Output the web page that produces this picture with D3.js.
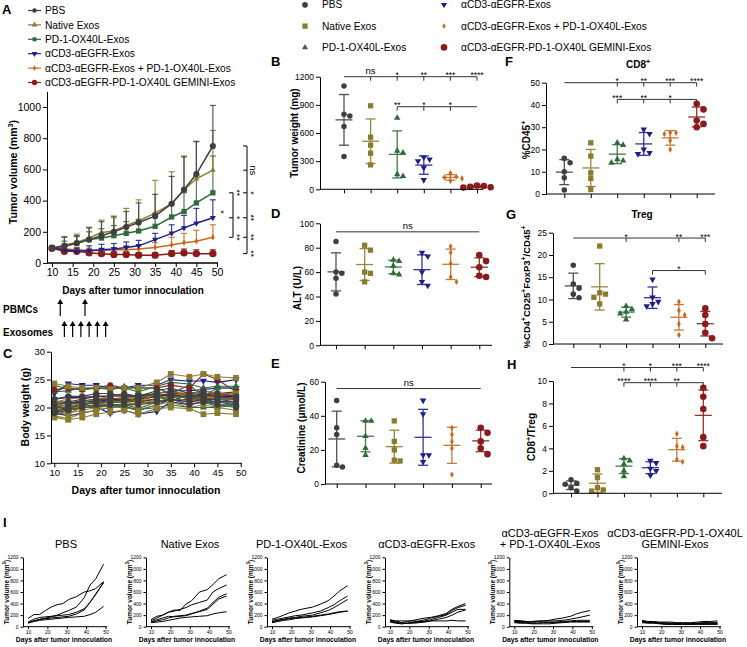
<!DOCTYPE html>
<html><head><meta charset="utf-8">
<script src="https://cdn.jsdelivr.net/npm/d3@7"></script>
<style>body{margin:0;background:#fff}</style>
</head><body>
<svg id="chart" width="747" height="647"></svg>
<script>
// ---------------- DATA ----------------
const groupNames = ["PBS","Native Exos","PD-1-OX40L-Exos","αCD3-αEGFR-Exos","αCD3-αEGFR-Exos + PD-1-OX40L-Exos","αCD3-αEGFR-PD-1-OX40L GEMINI-Exos"];
const panelITitles = [["PBS"],["Native Exos"],["PD-1-OX40L-Exos"],["αCD3-αEGFR-Exos"],["αCD3-αEGFR-Exos","+ PD-1-OX40L-Exos"],["αCD3-αEGFR-PD-1-OX40L","GEMINI-Exos"]];

// Panel A: tumor volume mean and mean+error
const daysA = [10,13,16,19,22,25,28,31,35,39,42,45,49];
const meanPBS    = [95,108,128,150,175,200,230,260,300,380,470,570,750];
const meanNative = [95,115,132,160,195,205,240,270,320,380,470,540,595];
const meanPD1    = [95,110,125,150,160,175,190,205,235,295,330,385,450];
const meanCD3    = [95,85,75,80,85,90,100,110,150,190,225,255,290];
const meanCombo  = [95,90,85,80,80,85,85,90,100,115,130,140,165];
const meanGemini = [95,75,75,65,60,55,55,50,50,60,65,60,60];
const upPBS    = [110,165,175,225,265,300,330,385,440,555,680,780,1010];
const upNative = [110,170,185,230,275,290,350,405,530,585,686,777,850];
const upPD1    = [105,140,170,200,220,240,265,280,320,380,450,560,686];
const upCD3    = [100,110,95,110,120,125,135,145,190,245,305,350,405];
const upCombo  = [100,105,100,95,95,100,110,110,130,165,190,210,245];
const upGemini = [100,85,85,80,75,70,70,65,65,80,90,85,85];
// significance in A (values at day 49)
const sigA1Levels = [450,290,165];  const sigA1Labels = ["**","*","**"];
const sigA2Levels = [750,595,450,290,165,60]; const sigA2Labels = ["ns","*","**","**","**"];
const pbmcDays = [12,18];
const exoDays = [13,15,17,19,21,23];

// Panel C: body weight (g), 5 mice per group
const daysC = [10,13,16,19,22,25,28,32,35,39,42,45,49];
const bwPBS = [
 [21.5,22,22,22.5,22.5,22,22,23,23.5,22.5,23,22.5,22],
 [20.5,21,21.5,22,22,22.5,22,22.5,23,22,22.5,22,21.5],
 [20,20.5,21,21.5,21.5,21,21.5,22,22.5,21.5,22,21.5,21],
 [19.5,20,20.5,21,21,21.5,21,21.5,22,21,21.5,21,20.5],
 [19,19.5,20,20.5,20.5,20.5,20.5,21,21.5,20.5,21,20.5,20]];
const bwNative = [
 [24.3,23.8,23.5,23.5,23.3,23.5,23.5,24.5,26,25.5,26,25.5,25.3],
 [21,20,21,21.5,22,22,21,22.5,23,22,23,22.5,22.5],
 [20,19,20,20.5,21,21,20.5,21.5,22,21,22,21.5,21.5],
 [18.5,18,19,19.5,20,20,19.5,20.5,21,20,20.5,20,19.5],
 [18.2,17.8,18.2,18.8,19.2,19.5,18.8,19.8,20,19.8,18.8,19,18.8]];
const bwPD1 = [
 [24,23.3,23.2,23.5,23.5,23.5,22.8,23.8,24.5,24.2,23.5,23.8,23.8],
 [22.8,23,23.5,23.5,23.3,23.7,23.5,23.5,22.5,24,22,23.5,23.5],
 [21,21,20.5,21,21,20.8,21.8,22.5,21,22.5,21.5,20.5,20.5],
 [20,20,20.5,20.2,20.3,20.6,19.8,21,21.8,22,21,20.2,20.8],
 [18.6,19.5,20,20,20.3,20.2,19.6,20,20.5,20,20,20,20.5]];
const bwCD3 = [
 [21.5,21.8,21.8,22,22,22,22.2,22.5,23,23,23.2,23.5,23.5],
 [22.5,24.3,24,24,23.5,23.5,24,24,25,24.7,24.8,24.5,25],
 [20.5,20.8,21,21,21.5,21.3,21.5,22,22.3,21.8,22.3,22,22],
 [19.5,19.5,20,20,19,19.5,18.8,19.3,21,20.5,21,21,21],
 [19,18.5,19,19.5,20,20.2,19.5,20.5,21.5,21,21.5,21.5,21.5]];
const bwCombo = [
 [20.5,20.2,20.5,21,21.2,21.5,21.7,22,22.5,22,21.8,21.5,21.5],
 [19.5,20,20.5,21,21.5,21.5,21.3,22,22.3,22,22,22,22],
 [20,19.7,20.2,20.5,21,21,21,21.5,22,21.8,21.5,21.8,21.8],
 [21,21.5,21.8,22,22,22.2,22,22.5,22.8,22.5,22.5,22.3,22.5],
 [18.8,19,19.5,20,20.3,20.5,20.5,21,21.5,21,21,21,21]];
const bwGemini = [
 [23.2,23.5,23.2,23.5,24,23.5,23.5,23.5,24,23.5,26,25,22.8],
 [20.2,20.5,21,21.2,21.5,21.8,22,22.2,22.5,22.5,22.5,22.5,22.8],
 [19.5,19.7,20.5,20.8,21,21,21.2,21.5,22,22,22,22,22],
 [20.8,20.8,21.2,21.5,21.5,21.5,21.8,22,22.2,22.3,22.2,22.3,22.2],
 [19.2,19.5,20,20.3,20.5,20.5,20.8,21,21.3,21.5,21.5,21.5,21.5]];

// Panels B, D-H: individual mice per group (group order)
const tumorWeight = [[1100,800,780,670,350],[890,555,470,385,260],[760,410,390,160,140],[340,320,300,230,100],[170,135,125,115,90],[40,35,28,22,18]];
const altVals     = [[85,60,59,55,42],[82,78,60,59,52],[70,69,65,59,58],[76,73,60,52,49],[81,76,67,56,52],[74,69,64,57,56]];
const creatVals   = [[49,33,29,11,10],[37,25,20,14,13.5],[37,37,28,21,17],[49,41,17,17,13],[33,29,25,21,5.5],[33,30,25,21,17.5]];
const cd8Vals     = [[16,14,10,7.3,1.8],[23,17,9.5,7,2],[23,22,15.5,15,14],[29,27,20,18.5,18],[27.5,27.5,27,24,20],[40.5,38,33,31.5,30]];
const tregVals    = [[17.7,13.5,12.5,11.2,10.4],[22,11.5,11.2,10.5,9],[8.5,7.8,7.2,6.8,5.5],[14.5,10.5,9.5,9,8.5],[9.5,7.5,6.5,4.5,2],[8,6.5,4.5,2.5,1.3]];
const ratioVals   = [[1.2,0.9,0.8,0.5,0.2],[2.1,1.4,0.5,0.3,0.2],[3.1,2.9,2.6,2.0,1.5],[2.9,2.7,2.2,2.0,1.6],[5.3,4.2,4.1,3.0,2.8],[9.4,8.6,7.5,5.0,4.2]];
const orderDefault = [0,1,2,3,4,5];
const orderE = [0,2,1,3,4,5];

// Panel I: individual tumor curves
const indPBS = [
 [140,210,210,280,340,380,400,470,520,600,620,660,780],
 [80,130,160,170,180,200,240,280,340,500,720,830,1080],
 [70,100,130,150,170,190,200,210,250,310,420,560,770],
 [70,100,120,140,150,160,170,180,220,290,420,570,760],
 [60,90,110,120,130,140,150,160,170,180,210,250,350]];
const indNative = [
 [120,180,200,250,290,280,390,450,600,640,730,830,900],
 [100,150,200,250,270,300,330,380,420,460,600,660,720],
 [80,120,150,180,170,180,190,220,270,320,420,510,570],
 [80,100,120,150,180,190,200,230,260,300,390,480,530],
 [70,80,90,110,130,150,160,170,180,190,220,240,260]];
const indPD1 = [
 [130,160,200,240,270,300,320,340,390,450,530,620,710],
 [110,130,150,170,190,200,220,240,270,330,380,450,530],
 [90,110,130,150,160,180,190,200,240,280,330,390,470],
 [80,100,120,140,150,160,170,180,200,220,240,260,270],
 [70,90,110,120,140,150,160,170,190,210,230,250,270]];
const indCD3 = [
 [120,100,70,90,110,130,150,160,190,230,300,350,400],
 [100,80,60,60,80,100,120,150,180,210,280,330,370],
 [90,70,50,60,70,80,100,120,160,200,250,300,300],
 [80,60,50,60,60,70,80,100,130,160,200,250,290],
 [110,100,100,100,100,90,90,100,100,100,110,100,100]];
const indCombo = [
 [110,100,90,90,100,100,110,130,150,180,220,250,280],
 [100,100,90,80,90,100,100,100,110,130,150,170,200],
 [90,90,80,80,80,80,80,80,90,100,110,110,110],
 [80,70,70,60,60,70,70,70,80,90,90,90,90],
 [70,60,60,50,50,50,50,60,70,80,80,80,80]];
const indGemini = [
 [110,90,90,80,80,80,70,70,70,80,90,90,100],
 [100,80,80,70,70,60,60,50,50,60,70,70,70],
 [90,80,70,60,50,50,50,50,50,60,60,60,60],
 [80,70,70,60,50,50,40,40,40,50,50,50,50],
 [70,60,60,50,40,40,40,40,40,40,40,40,40]];

// ---------------- STYLE ----------------
const colors = ["#3f3f3f","#8a7b2e","#2f6b3a","#1e1e8a","#c76a20","#8c1a1a"];
const FONT = '"Liberation Sans", Arial, Helvetica, sans-serif';
const svg = d3.select("#chart");
const fmtInt = d3.format("d");

const triDown = {draw(ctx,size){const s=Math.sqrt(size/(Math.sqrt(3)/4)); const h=s*Math.sqrt(3)/2; ctx.moveTo(-s/2,-h/3); ctx.lineTo(s/2,-h/3); ctx.lineTo(0,2*h/3); ctx.closePath();}};
const triUp = {draw(ctx,size){const s=Math.sqrt(size/(Math.sqrt(3)/4)); const h=s*Math.sqrt(3)/2; ctx.moveTo(-s/2,h/3); ctx.lineTo(s/2,h/3); ctx.lineTo(0,-2*h/3); ctx.closePath();}};
const symA   = [d3.symbolCircle, triUp, d3.symbolSquare, triDown, d3.symbolDiamond, d3.symbolCircle];
const symDot = [d3.symbolCircle, d3.symbolSquare, triUp, triDown, d3.symbolDiamond, d3.symbolCircle];
const sizeDot = [24, 28, 18, 18, 12, 34];

function sym(g, type, x, y, size, color) {
  return g.append("path").attr("d", d3.symbol(type, size)()).attr("transform", `translate(${x},${y})`).attr("fill", color);
}
function text(x, y, s, o = {}) {
  const fs = o.fs || 10;
  const t = svg.append("text").attr("x", x).attr("y", y).attr("font-family", FONT)
    .attr("font-size", fs).attr("font-weight", o.bold ? "bold" : "normal")
    .attr("text-anchor", o.anchor || "start").attr("fill", "#000");
  if (o.rot !== undefined) t.attr("transform", `rotate(${o.rot},${x},${y})`);
  if (Array.isArray(s)) {
    let up = false;
    s.forEach(p => {
      if (typeof p === "string") { const ts = t.append("tspan").text(p); if (up) { ts.attr("dy", fs * 0.38); up = false; } }
      else { t.append("tspan").text(p[0]).attr("font-size", fs * 0.7).attr("dy", -fs * 0.38); up = true; }
    });
  } else t.text(s);
  return t;
}
function line(x1, y1, x2, y2, color = "#000", w = 1) {
  return svg.append("line").attr("x1", x1).attr("y1", y1).attr("x2", x2).attr("y2", y2).attr("stroke", color).attr("stroke-width", w);
}
function yAxis(x, scale, ticks, fs, ts = 4) {
  const ax = d3.axisLeft(scale).tickValues(ticks).tickSize(ts).tickSizeOuter(0).tickPadding(2).tickFormat(v => Number.isInteger(v) ? fmtInt(v) : v);
  const g = svg.append("g").attr("transform", `translate(${x},0)`).call(ax);
  g.attr("font-size", fs).attr("font-family", FONT);
  g.selectAll("text").attr("fill", "#000");
  g.selectAll("line,path").attr("stroke", "#000");
  return g;
}
function xAxis(y, scale, ticks, fs, ts, x0, x1, labels = true) {
  const ax = d3.axisBottom(scale).tickValues(ticks).tickSize(ts).tickSizeOuter(0).tickPadding(1.5);
  if (!labels) ax.tickFormat(""); else ax.tickFormat(fmtInt);
  const g = svg.append("g").attr("transform", `translate(0,${y})`).call(ax);
  g.attr("font-size", fs).attr("font-family", FONT);
  g.select(".domain").remove();
  g.selectAll("text").attr("fill", "#000");
  g.selectAll("line").attr("stroke", "#000");
  line(x0, y, x1, y);
  return g;
}

// ---------------- PANEL LETTERS ----------------
[["A",2,14],["B",271,66],["C",3,358],["D",271,218],["E",271,368],["F",505,66],["G",506,219],["H",507,369],["I",3,527]]
  .forEach(([l,x,y]) => text(x, y, l, {fs: 13, bold: true}));

// ---------------- PANEL A ----------------
const meansA = [meanPBS, meanNative, meanPD1, meanCD3, meanCombo, meanGemini];
const upsA = [upPBS, upNative, upPD1, upCD3, upCombo, upGemini];
const xA = d3.scaleLinear().domain([10, 50]).range([52, 217]);
const yA = d3.scaleLinear().domain([0, 1100]).range([263, 91.4]);
// legend
groupNames.forEach((n, i) => {
  const y = 10.5 + i * 14.4;
  line(28, y, 41, y, colors[i], 1.2);
  sym(svg, symA[i], 34.5, y, [16, 14, 16, 14, 10, 22][i], colors[i]);
  text(45, y + 3.6, n, {fs: 10.2});
});
const gA = svg.append("g");
const drawOrderA = [5, 4, 3, 2, 1, 0];
drawOrderA.forEach(i => {
  const m = meansA[i], u = upsA[i];
  daysA.forEach((d, k) => {
    gA.append("line").attr("x1", xA(d)).attr("x2", xA(d)).attr("y1", yA(m[k])).attr("y2", yA(u[k])).attr("stroke", colors[i]).attr("stroke-width", 1.2).attr("opacity", 0.85);
    gA.append("line").attr("x1", xA(d) - 3).attr("x2", xA(d) + 3).attr("y1", yA(u[k])).attr("y2", yA(u[k])).attr("stroke", colors[i]).attr("stroke-width", 1.2).attr("opacity", 0.85);
  });
  gA.append("path").attr("d", d3.line().x((v, k) => xA(daysA[k])).y(v => yA(v))(m)).attr("fill", "none").attr("stroke", colors[i]).attr("stroke-width", 1.5);
  daysA.forEach((d, k) => sym(gA, symA[i], xA(d), yA(m[k]), [30, 14, 28, 16, 12, 42][i], colors[i]));
});
yAxis(47, yA, [0, 200, 400, 600, 800, 1000], 10.5);
line(47, 263, 218, 263);
xAxis(263, xA, [10, 15, 20, 25, 30, 35, 40, 45, 50], 10.5, 4, 47, 218);
text(16.5, 172, ["Tumor volume (mm", ["3"], ")"], {fs: 10.5, bold: true, anchor: "middle", rot: -90});
text(133, 293.5, "Days after tumor innoculation", {fs: 10, bold: true, anchor: "middle"});
// significance brackets
{
  const bx1 = 233, bx2 = 247;
  line(bx1, yA(sigA1Levels[0]), bx1, yA(sigA1Levels[2]));
  sigA1Levels.forEach((v, k) => { line(bx1 - 4, yA(v), bx1, yA(v)); text(234, yA(v), sigA1Labels[k], {fs: 8.5, anchor: "middle", rot: 90}); });
  text(218, (yA(sigA1Levels[0]) + yA(sigA1Levels[2])) / 2 - 3, "*", {fs: 8.5, anchor: "middle", rot: 90});
  line(bx2, yA(sigA2Levels[0]), bx2, yA(sigA2Levels[5]));
  sigA2Levels.forEach((v, k) => {
    line(bx2 - 4, yA(v), bx2, yA(v));
    if (k > 0) { const l = sigA2Labels[k - 1]; text(l === "ns" ? 249.5 : 247.5, yA(v), l, {fs: l === "ns" ? 9.5 : 8.5, anchor: "middle", rot: 90}); }
  });
}
// PBMCs / Exosomes arrows
function arrow(x, y1, y2) {
  line(x, y2, x, y1 + 3, "#000", 1.2);
  svg.append("path").attr("d", `M${x - 3},${y1 + 5} L${x},${y1} L${x + 3},${y1 + 5} Z`).attr("fill", "#000");
}
text(3, 313, "PBMCs", {fs: 10, bold: true});
pbmcDays.forEach(d => arrow(xA(d), 299, 316));
text(3, 335.5, "Exosomes", {fs: 10, bold: true});
exoDays.forEach(d => arrow(xA(d), 321, 337));

// ---------------- PANEL C ----------------
const bwAll = [bwPBS, bwNative, bwPD1, bwCD3, bwCombo, bwGemini];
const xC = d3.scaleLinear().domain([10, 50]).range([54.3, 240.7]);
const yC = d3.scaleLinear().domain([10, 30]).range([463.3, 351.7]);
const gC = svg.append("g");
const lineOrderC = [5, 4, 3, 0, 1, 2];
lineOrderC.forEach(i => bwAll[i].forEach(m => {
  gC.append("path").attr("d", d3.line().x((v, k) => xC(daysC[k])).y(v => yC(v))(m)).attr("fill", "none").attr("stroke", colors[i]).attr("stroke-width", 1.1);
}));
const markOrderC = [3, 4, 2, 5, 1, 0];
markOrderC.forEach(i => bwAll[i].forEach(m => m.forEach((v, k) => sym(gC, symDot[i], xC(daysC[k]), yC(v), [30, 34, 22, 22, 16, 28][i], colors[i]))));
yAxis(51, yC, [10, 15, 20, 25, 30], 9.5);
xAxis(463.3, xC, [10, 15, 20, 25, 30, 35, 40, 45, 50], 9.5, 4, 51, 242);
text(28.5, 407, "Body weight (g)", {fs: 10.5, bold: true, anchor: "middle", rot: -90});
text(146, 494, "Days after tumor innoculation", {fs: 10.5, bold: true, anchor: "middle"});

// ---------------- TOP LEGEND ----------------
groupNames.forEach((n, i) => {
  const col = i < 3 ? 0 : 1, row = i % 3;
  const y = 4.8 + row * 21.3;
  sym(svg, symDot[i], col ? 444 : 305, y, [26, 28, 16, 16, 10, 34][i], colors[i]);
  text(col ? 461 : 322, y + 3.6, n, {fs: 10.2});
});

// ---------------- DOT PLOTS ----------------
function swarm(vals, yScale, cx, r) {
  const pts = vals.map(v => ({v, y: yScale(v)})).sort((a, b) => a.y - b.y);
  const placed = [], step = 2 * r + 0.4;
  pts.forEach(p => {
    const c = [0, step, -step, 2 * step, -2 * step, 3 * step, -3 * step];
    p.x = cx;
    for (const dx of c) {
      if (placed.every(q => Math.hypot(q.x - (cx + dx), q.y - p.y) >= 2 * r)) { p.x = cx + dx; break; }
    }
    placed.push(p);
  });
  return placed;
}
function dotPanel(cfg) {
  const cat = d3.scalePoint().domain(d3.range(6)).range(cfg.cat);
  const y = d3.scaleLinear().domain([0, cfg.max]).range(cfg.yr);
  const g = svg.append("g");
  cfg.order.forEach((gi, pos) => {
    const vals = cfg.vals[gi], cx = cat(pos), c = colors[gi];
    const mean = d3.mean(vals), sd = d3.deviation(vals);
    const ey1 = y(mean + sd), ey2 = y(Math.max(0, mean - sd));
    const gg = g.append("g").attr("stroke", c).attr("stroke-width", 1.3).attr("opacity", 0.9);
    gg.append("line").attr("x1", cx).attr("x2", cx).attr("y1", ey1).attr("y2", ey2);
    gg.append("line").attr("x1", cx - 5).attr("x2", cx + 5).attr("y1", ey1).attr("y2", ey1);
    gg.append("line").attr("x1", cx - 5).attr("x2", cx + 5).attr("y1", ey2).attr("y2", ey2);
    gg.append("line").attr("x1", cx - 8.5).attr("x2", cx + 8.5).attr("y1", y(mean)).attr("y2", y(mean));
    const r = gi === 5 ? 3.2 : 2.7;
    swarm(vals, y, cx, r).forEach(p => sym(g, symDot[gi], p.x, p.y, sizeDot[gi], c));
  });
  yAxis(cfg.ax, y, d3.range(0, cfg.max + 1e-9, cfg.step), 8.5, 4);
  xAxis(cfg.yr[0], cat, d3.range(6), 8, 4, cfg.ax, cfg.xEnd, false);
  text(cfg.tx, cfg.ty, cfg.title, {fs: cfg.tfs || 10, bold: true, anchor: "middle", rot: -90});
  if (cfg.head) text(cfg.head[0], cfg.head[1], cfg.head[2], {fs: 10, bold: true, anchor: "middle"});
  (cfg.sig || []).forEach(s => {
    const yy = y(s.level);
    line(cat(s.from), yy, cat(s.to), yy, "#333", 1);
    (s.ticks || []).forEach(t => line(cat(t), yy, cat(t), yy + 4, "#333", 1));
    (s.labels || []).forEach(([pos, l]) => {
      const x = pos % 1 === 0 ? cat(pos) : (cat(Math.floor(pos)) + cat(Math.ceil(pos))) / 2;
      text(x, l === "ns" ? yy - 2.5 : yy + 1.5, l, {fs: l === "ns" ? 9.5 : 8.5, anchor: "middle"});
    });
  });
}
dotPanel({vals: tumorWeight, order: orderDefault, ax: 320, xEnd: 483, cat: [344, 477], yr: [189.3, 76.7], max: 1200, step: 300,
  title: "Tumor weight (mg)", tx: 298, ty: 133,
  sig: [{level: 1200, from: 0, to: 5, ticks: [1, 2, 3, 4, 5], labels: [[1, "ns"], [2, "*"], [3, "**"], [4, "***"], [5, "****"]]},
        {level: 880, from: 2, to: 5, ticks: [2, 3, 4], labels: [[2, "**"], [3, "*"], [4, "*"]]}]});
dotPanel({vals: altVals, order: orderDefault, ax: 320, xEnd: 492, cat: [336, 479.3], yr: [345.3, 223.3], max: 100, step: 20,
  title: "ALT (U/L)", tx: 300.5, ty: 288,
  sig: [{level: 93, from: 0, to: 5, labels: [[2.5, "ns"]]}]});
dotPanel({vals: creatVals, order: orderE, ax: 325, xEnd: 492, cat: [336.7, 480.7], yr: [484, 381.7], max: 60, step: 20,
  title: "Creatinine (μmol/L)", tx: 305, ty: 428,
  sig: [{level: 56, from: 0, to: 5, labels: [[2.5, "ns"]]}]});
dotPanel({vals: cd8Vals, order: orderDefault, ax: 546, xEnd: 715, cat: [564.3, 696.7], yr: [194, 82.7], max: 50, step: 10,
  title: ["%CD45", ["+"]], tx: 530, ty: 140, head: [638, 68, ["CD8", ["+"]]],
  sig: [{level: 50, from: 0, to: 5, ticks: [2, 3, 4, 5], labels: [[2, "*"], [3, "**"], [4, "***"], [5, "****"]]},
        {level: 42.5, from: 2, to: 5, ticks: [2, 3, 4, 5], labels: [[2, "***"], [3, "**"], [4, "*"]]}]});
dotPanel({vals: tregVals, order: orderDefault, ax: 553, xEnd: 723, cat: [573.3, 705.3], yr: [344, 232.7], max: 25, step: 5,
  title: ["%CD4", ["+"], "CD25", ["+"], "FoxP3", ["+"], "/CD45", ["+"]], tx: 530, ty: 287, tfs: 9.5, head: [642, 218, "Treg"],
  sig: [{level: 23.8, from: 0, to: 5, ticks: [2, 4, 5], labels: [[2, "*"], [4, "**"], [5, "***"]]},
        {level: 16.5, from: 3, to: 5, ticks: [3, 5], labels: [[4, "*"]]}]});
dotPanel({vals: ratioVals, order: orderDefault, ax: 553, xEnd: 722, cat: [571, 703.3], yr: [493.3, 381], max: 10, step: 2,
  title: ["CD8", ["+"], "/Treg"], tx: 535, ty: 437,
  sig: [{level: 11.2, from: 0, to: 5, ticks: [2, 3, 4, 5], labels: [[2, "*"], [3, "*"], [4, "***"], [5, "****"]]},
        {level: 9.85, from: 2, to: 5, ticks: [2, 3, 4, 5], labels: [[2, "****"], [3, "****"], [4, "**"]]}]});

// ---------------- PANEL I ----------------
const indAll = [indPBS, indNative, indPD1, indCD3, indCombo, indGemini];
const iAxisX = [23, 146, 267, 385, 509.3, 637];
const iTitleX = [66, 190, 301.5, 426.7, 550, 675];
indAll.forEach((curves, gi) => {
  const ax = iAxisX[gi];
  const x = d3.scaleLinear().domain([10, 50]).range([ax + 5, ax + 82.5]);
  const y = d3.scaleLinear().domain([0, 1200]).range([626.7, 557.3]);
  curves.forEach(c => svg.append("path").attr("d", d3.line().x((v, k) => x(daysA[k])).y(v => y(v))(c)).attr("fill", "none").attr("stroke", "#000").attr("stroke-width", 1));
  yAxis(ax, y, d3.range(0, 1201, 200), 5, 2.5);
  xAxis(626.7, x, [10, 20, 30, 40, 50], 5, 2.5, ax, ax + 84);
  text(ax - 14.5, 592, ["Tumor volume (mm", ["3"], ")"], {fs: 6.5, bold: true, anchor: "middle", rot: -90});
  text(ax + 41, 642, "Days after tumor innoculation", {fs: 6.8, bold: true, anchor: "middle"});
  const t = panelITitles[gi];
  if (t.length === 1) text(iTitleX[gi], 547.5, t[0], {fs: 11, anchor: "middle"});
  else { text(iTitleX[gi], 536.5, t[0], {fs: 11, anchor: "middle"}); text(iTitleX[gi], 548, t[1], {fs: 11, anchor: "middle"}); }
});
</script>
</body></html>
